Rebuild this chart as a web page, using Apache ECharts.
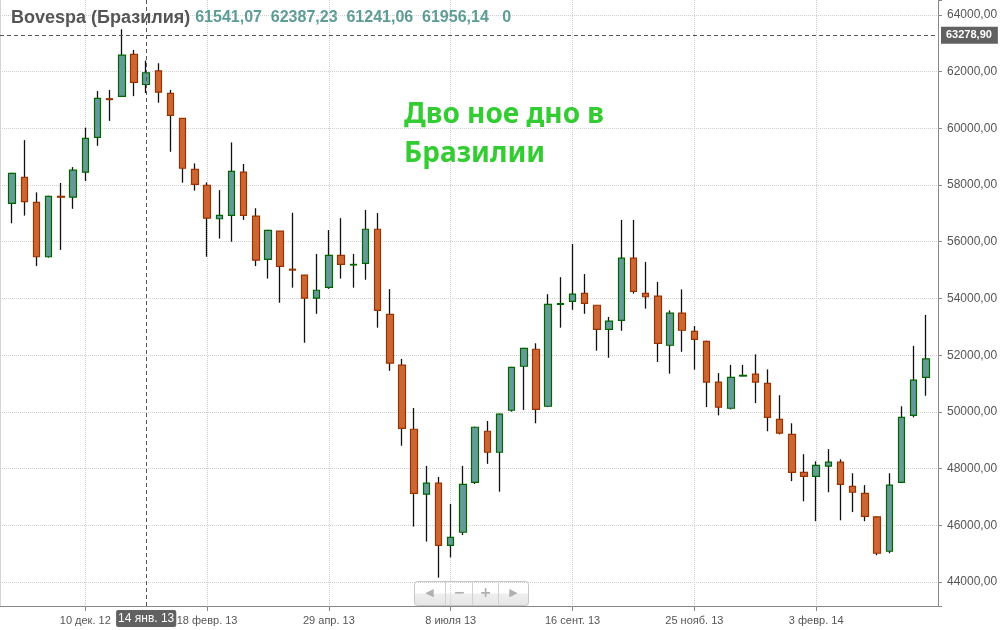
<!DOCTYPE html>
<html>
<head>
<meta charset="utf-8">
<title>Bovespa</title>
<script src="https://cdn.jsdelivr.net/npm/echarts@6/dist/echarts.min.js"></script>
<style>
  html, body { margin: 0; padding: 0; background: #fff; }
  #chart { width: 1005px; height: 630px; }
</style>
</head>
<body>
<div id="chart"></div>
<script>
// недельные свечи, первая неделя 29 окт. 2012
const firstWeek = [2012, 9, 29]
const weekCount = 76
const monthNames = ['янв.', 'февр.', 'марта', 'апр.', 'мая', 'июня', 'июля', 'авг.', 'сент.', 'окт.', 'нояб.', 'дек.']

const openPrices = [
  57350, 58270, 57390, 55470, 57600, 57570, 58450, 59680, 61040, 61120,
  62600, 61541.07, 62020, 61230, 60350, 58550, 57990, 56810, 56930, 58450,
  56900, 55380, 56370, 55030, 54820, 54010, 54390, 55520, 55180, 55240,
  56440, 53440, 51650, 49390, 47100, 47490, 45300, 45760, 47520, 49320,
  48580, 50060, 51610, 52210, 50200, 53790, 53900, 54180, 53760, 52910,
  53230, 55420, 54180, 54080, 52350, 53480, 52840, 52490, 51050, 50130,
  51265, 51330, 51010, 49740, 49210, 47870, 47730, 48090, 48230, 47380,
  47130, 46300, 45090, 47520, 49880, 51220
]
const closePrices = [
  58410, 57410, 55470, 57600, 57570, 58520, 59640, 61050, 61010, 62580,
  61620, 61956.14, 61270, 60450, 58590, 58020, 56830, 56930, 58480, 56930,
  55350, 56400, 55130, 55000, 54010, 54290, 55520, 55200, 55200, 56440,
  53580, 51720, 49420, 47130, 47490, 45300, 45580, 47450, 49460, 48580,
  49920, 51570, 52240, 50090, 53790, 53820, 54150, 53830, 52910, 53200,
  55420, 54250, 54060, 52420, 53480, 52880, 52560, 51050, 50170, 51220,
  51290, 51050, 49810, 49250, 47870, 47730, 48120, 48230, 47450, 47170,
  46320, 45020, 47420, 49810, 51120, 51867.29
]
const lowPrices = [
  56650, 56920, 55140, 55440, 55710, 57160, 58140, 59380, 60260, 61100,
  61130, 61241.06, 60900, 59170, 58080, 57800, 55470, 56110, 56000, 56770,
  55140, 54700, 53850, 54380, 52440, 53460, 54340, 54700, 54380, 54660,
  52970, 51450, 48810, 45960, 45430, 44160, 44870, 45660, 47460, 48170,
  47190, 50010, 50070, 49600, 50170, 52970, 53600, 53460, 52160, 51910,
  52860, 54170, 53640, 51760, 51350, 52120, 51490, 50170, 49880, 50090,
  51260, 50310, 49320, 49210, 47560, 46850, 46150, 47170, 46180, 46470,
  46150, 44950, 45020, 47490, 49810, 50570
]
const highPrices = [
  58430, 59580, 57740, 57620, 58070, 58630, 60020, 61310, 61350, 63490,
  62760, 62387.23, 62290, 61350, 60360, 58760, 58090, 57820, 59500, 58740,
  57180, 56420, 56380, 57020, 54830, 55570, 56410, 56830, 55570, 57120,
  57010, 54330, 51870, 50140, 48100, 47710, 46760, 48100, 49480, 49680,
  49940, 51590, 52260, 52420, 54150, 54750, 55920, 54860, 53770, 53350,
  56770, 56770, 55290, 54580, 53580, 54320, 53030, 52510, 51370, 51660,
  51660, 52030, 51500, 50590, 49600, 48510, 48260, 48690, 48330, 47840,
  47420, 46320, 47840, 50200, 52330, 53420
]

const tickLabels = ['10 дек. 12', '18 февр. 13', '29 апр. 13', '8 июля 13', '16 сент. 13', '25 нояб. 13', '3 февр. 14']
const crosshairIndex = 11
const crosshairPrice = 63278.90

const fmt = (v) => v.toFixed(2).replace('.', ',')

const weekLabels = []
for (let i = 0; i < weekCount; i++) {
  const d = new Date(firstWeek[0], firstWeek[1], firstWeek[2] + 7 * i)
  weekLabels.push(d.getDate() + ' ' + monthNames[d.getMonth()] + ' ' + String(d.getFullYear()).slice(2))
}
// пустые категории по краям, чтобы крайние свечи не обрезались
const categories = [' '].concat(weekLabels, ['  '])
const empty = ['-', '-', '-', '-']
const wickData = [empty].concat(openPrices.map((o, i) => [o, closePrices[i], lowPrices[i], highPrices[i]]), [empty])
const bodyData = [empty].concat(openPrices.map((o, i) => {
  const c = closePrices[i]
  return [o, c, Math.min(o, c), Math.max(o, c)]
}), [empty])

const headerText = [openPrices, highPrices, lowPrices, closePrices]
  .map((arr) => fmt(arr[crosshairIndex])).join('  ') + '   0'

const showTick = (i, v) => tickLabels.indexOf(v) !== -1
const lastClose = closePrices[closePrices.length - 1]

const chart = echarts.init(document.getElementById('chart'))

const option = {
  animation: false,
  backgroundColor: '#fff',
  title: [
    {
      left: 6,
      top: 4,
      text: '{n|Bovespa (Бразилия)} {v|' + headerText + '}',
      textStyle: {
        rich: {
          n: { fontSize: 18, fontWeight: 'bold', color: '#555', fontFamily: 'Liberation Sans' },
          v: { fontSize: 16, color: '#5e9c96', fontFamily: 'Liberation Sans' },
        },
      },
    },
    {
      left: 399,
      top: 91,
      text: 'Дво ное дно в\nБразилии',
      textStyle: {
        color: '#33cc33',
        fontSize: 28,
        fontWeight: 'bold',
        lineHeight: 39,
        fontFamily: 'Noto Sans',
      },
    },
  ],
  grid: {
    left: 0,
    right: 67,
    top: 0,
    bottom: 24,
  },
  xAxis: {
    type: 'category',
    data: categories,
    boundaryGap: false,
    axisLine: { lineStyle: { color: '#888', width: 1 } },
    axisTick: { interval: showTick, length: 5, lineStyle: { color: '#888' } },
    axisLabel: {
      interval: showTick,
      color: '#555',
      fontSize: 11,
      fontFamily: 'Liberation Sans Narrow, Liberation Sans',
      margin: 9,
    },
    splitLine: {
      show: true,
      interval: showTick,
      lineStyle: { color: '#cfcfcf', type: 'dotted', width: 1 },
    },
  },
  yAxis: [
    {
      type: 'value',
      position: 'right',
      min: 43160,
      max: 64520,
      splitNumber: 10,
      axisLine: { show: true, lineStyle: { color: '#888', width: 1 } },
      axisTick: { show: true, length: 4, lineStyle: { color: '#888' } },
      axisLabel: {
        color: '#555',
        fontSize: 12,
        fontFamily: 'Liberation Sans',
        margin: 9,
        formatter: (v) => (v % 2000 === 0 ? fmt(v) : ''),
      },
      splitLine: {
        show: true,
        showMaxLine: false,
        lineStyle: { color: '#cfcfcf', type: 'dotted', width: 1 },
      },
    },
    {
      type: 'value',
      position: 'left',
      min: 43160,
      max: 64520,
      axisLine: { show: true, lineStyle: { color: '#d4d4d4' } },
      axisTick: { show: false },
      axisLabel: { show: false },
      splitLine: { show: false },
    },
  ],
  series: [
    {
      name: 'wick',
      type: 'candlestick',
      data: wickData,
      barWidth: 1,
      itemStyle: {
        color: '#111',
        color0: '#111',
        borderColor: '#111',
        borderColor0: '#111',
        borderWidth: 1.3,
      },
    },
    {
      name: 'Bovespa',
      type: 'candlestick',
      data: bodyData,
      barWidth: 7,
      itemStyle: {
        color: '#669999',
        color0: '#cc6633',
        borderColor: '#006600',
        borderColor0: '#993300',
        borderWidth: 1.2,
      },
      markLine: {
        silent: true,
        symbol: ['none', 'none'],
        data: [
          {
            yAxis: crosshairPrice,
            lineStyle: { color: '#555', type: [4, 3], width: 1 },
            label: {
              position: 'end',
              distance: 3,
              formatter: fmt(crosshairPrice),
              backgroundColor: '#616161',
              color: '#fff',
              fontSize: 11,
              fontWeight: 'bold',
              fontFamily: 'Liberation Sans',
              padding: [3, 6, 3, 5],
            },
          },
          {
            xAxis: weekLabels[crosshairIndex],
            lineStyle: { color: '#555', type: [4, 3], width: 1 },
            label: {
              position: 'start',
              distance: 4,
              formatter: weekLabels[crosshairIndex],
              backgroundColor: '#616161',
              color: '#fff',
              fontSize: 12,
              fontFamily: 'Liberation Sans',
              padding: [3, 2, 2, 2],
              borderRadius: 2,
            },
          },
          {
            yAxis: lastClose,
            lineStyle: { opacity: 0 },
            label: {
              position: 'end',
              distance: 3,
              formatter: fmt(lastClose),
              backgroundColor: '#669999',
              color: '#fff',
              fontSize: 11,
              fontWeight: 'bold',
              fontFamily: 'Liberation Sans',
              padding: [4, 6, 4, 5],
            },
          },
        ],
      },
    },
  ],
  graphic: [
    {
      type: 'group',
      left: 414,
      top: 579,
      z: 100,
      children: [
        {
          type: 'rect',
          shape: { x: 0, y: 0, width: 114, height: 24, r: 3 },
          style: {
            fill: new echarts.graphic.LinearGradient(0, 0, 0, 1, [
              { offset: 0, color: '#ffffff' },
              { offset: 0.48, color: '#ffffff' },
              { offset: 0.52, color: '#eeeeee' },
              { offset: 1, color: '#e6e6e6' },
            ]),
            stroke: '#c6c6c6',
            lineWidth: 1,
          },
        },
        { type: 'line', shape: { x1: 31, y1: 0, x2: 31, y2: 24 }, style: { stroke: '#d0d0d0' } },
        { type: 'line', shape: { x1: 58, y1: 0, x2: 58, y2: 24 }, style: { stroke: '#d0d0d0' } },
        { type: 'line', shape: { x1: 84, y1: 0, x2: 84, y2: 24 }, style: { stroke: '#d0d0d0' } },
        { type: 'text', x: 15, y: 12, style: { text: '◀', fill: '#b0b0b0', fontSize: 11, fontFamily: 'DejaVu Sans', align: 'center', verticalAlign: 'middle' } },
        { type: 'text', x: 45, y: 12, style: { text: '−', fill: '#b0b0b0', fontSize: 14, fontWeight: 'bold', fontFamily: 'DejaVu Sans', align: 'center', verticalAlign: 'middle' } },
        { type: 'text', x: 71, y: 12, style: { text: '+', fill: '#b0b0b0', fontSize: 14, fontWeight: 'bold', fontFamily: 'DejaVu Sans', align: 'center', verticalAlign: 'middle' } },
        { type: 'text', x: 99, y: 12, style: { text: '▶', fill: '#b0b0b0', fontSize: 11, fontFamily: 'DejaVu Sans', align: 'center', verticalAlign: 'middle' } },
      ],
    },
  ],
}

chart.setOption(option)

window.addEventListener('resize', () => {
  chart.resize()
})
</script>
</body>
</html>
